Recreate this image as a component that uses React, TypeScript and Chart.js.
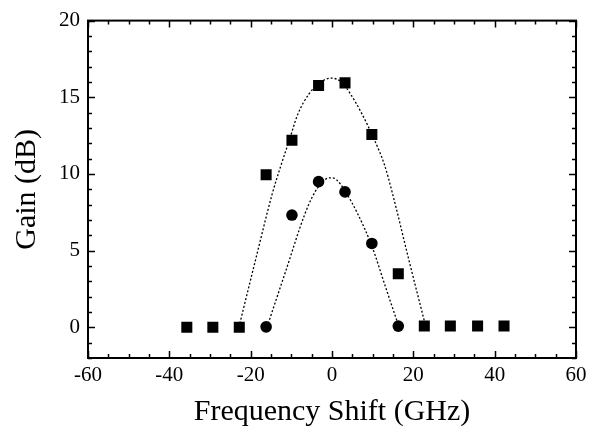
import React, { useEffect, useRef } from 'react';
import { Chart, registerables } from 'chart.js';

Chart.register(...registerables);

// Axis ticks
const xTicks = [-60, -40, -20, 0, 20, 40, 60];
const yTicks = [0, 5, 10, 15, 20];
const xMinorStep = 5;
const yMinorStep = 1;
const xRange = [-60, 60];
const yRange = [-2, 20];

// Measured data: squares
const squareX = [-35.7, -29.3, -22.8, -16.2, -9.85, -3.3, 3.2, 9.8, 16.3, 22.7, 29.1, 35.8, 42.3];
const squareY = [0, 0, 0, 9.95, 12.2, 15.77, 15.94, 12.58, 3.49, 0.08, 0.08, 0.08, 0.08];

// Measured data: circles
const circleX = [-16.2, -9.85, -3.3, 3.2, 9.8, 16.3];
const circleY = [0.03, 7.32, 9.5, 8.83, 5.47, 0.08];

// Fit curves (dotted)
const squareFitX = [-22.9, -18.8, -14.7, -12.5, -10.5, -8.4, -5.7, -3.0, -0.3, 2.3, 4.7, 7.1, 10.3, 12.9, 14.8, 18.9, 23.1];
const squareFitY = [0, 4.4, 8.7, 10.6, 12.2, 13.9, 15.2, 15.95, 16.25, 16.0, 15.15, 14.05, 12.3, 10.6, 8.8, 4.4, 0];
const circleFitX = [-16.0, -11.4, -6.8, -4.75, -2.5, -0.5, 1.0, 3.3, 6.5, 9.8, 13.2, 16.5];
const circleFitY = [0, 3.65, 7.3, 8.55, 9.45, 9.75, 9.65, 8.85, 7.3, 5.3, 2.6, 0];

const toPts = (xs: number[], ys: number[]) => xs.map((x, i) => ({ x, y: ys[i] }));

const framePlugin = {
  id: 'frame',
  afterDatasetsDraw(chart: any) {
    const { ctx, chartArea: a, scales } = chart;
    const x = scales.x;
    const y = scales.y;
    ctx.save();
    ctx.strokeStyle = '#000';
    ctx.lineWidth = 1.5;
    ctx.beginPath();
    for (let v = xRange[0]; v <= xRange[1] + 1e-9; v += xMinorStep) {
      const px = Math.round(x.getPixelForValue(v)) + 0.5;
      const len = xTicks.includes(v) ? 7 : 4;
      ctx.moveTo(px, a.bottom);
      ctx.lineTo(px, a.bottom - len);
      ctx.moveTo(px, a.top);
      ctx.lineTo(px, a.top + len);
    }
    for (let v = yRange[0]; v <= yRange[1] + 1e-9; v += yMinorStep) {
      const py = Math.round(y.getPixelForValue(v)) + 0.5;
      const len = yTicks.includes(v) ? 7 : 4;
      ctx.moveTo(a.left, py);
      ctx.lineTo(a.left + len, py);
      ctx.moveTo(a.right, py);
      ctx.lineTo(a.right - len, py);
    }
    ctx.stroke();
    ctx.lineWidth = 2;
    ctx.strokeRect(a.left, a.top, a.right - a.left, a.bottom - a.top);
    ctx.restore();
  },
};

export default function App() {
  const ref = useRef<HTMLCanvasElement | null>(null);

  useEffect(() => {
    if (!ref.current) return;
    Chart.defaults.font.family = "'Liberation Serif', 'Times New Roman', serif";
    Chart.defaults.color = '#000';
    const chart = new Chart(ref.current, {
      type: 'scatter',
      data: {
        datasets: [
          {
            label: 'square fit',
            data: toPts(squareFitX, squareFitY),
            showLine: true,
            borderColor: '#000',
            borderWidth: 1.3,
            borderDash: [2, 2],
            pointRadius: 0,
            cubicInterpolationMode: 'monotone',
          },
          {
            label: 'circle fit',
            data: toPts(circleFitX, circleFitY),
            showLine: true,
            borderColor: '#000',
            borderWidth: 1.3,
            borderDash: [2, 2],
            pointRadius: 0,
            cubicInterpolationMode: 'monotone',
          },
          {
            label: 'squares',
            data: toPts(squareX, squareY),
            pointStyle: 'rect',
            pointRadius: 7.8,
            backgroundColor: '#000',
            borderColor: '#000',
            borderWidth: 0,
          },
          {
            label: 'circles',
            data: toPts(circleX, circleY),
            pointStyle: 'circle',
            pointRadius: 5.8,
            backgroundColor: '#000',
            borderColor: '#000',
            borderWidth: 0,
          },
        ],
      },
      options: {
        responsive: false,
        animation: false,
        layout: { padding: { top: 18, right: 20, left: 0, bottom: 0 } },
        plugins: { legend: { display: false }, tooltip: { enabled: false } },
        scales: {
          x: {
            type: 'linear',
            position: 'bottom',
            min: xRange[0],
            max: xRange[1],
            afterBuildTicks: (s: any) => {
              s.ticks = xTicks.map((v) => ({ value: v }));
            },
            afterFit: (s: any) => {
              s.height = 72;
            },
            grid: { display: false, drawTicks: false },
            border: { display: false },
            ticks: {
              color: '#000',
              font: { size: 21 },
              padding: 5,
              maxRotation: 0,
              autoSkip: false,
            },
            title: {
              display: true,
              text: 'Frequency Shift (GHz)',
              color: '#000',
              font: { size: 30 },
              padding: { top: 0, bottom: 0 },
            },
          },
          y: {
            type: 'linear',
            position: 'left',
            min: yRange[0],
            max: yRange[1],
            afterBuildTicks: (s: any) => {
              s.ticks = yTicks.map((v) => ({ value: v }));
            },
            afterFit: (s: any) => {
              s.width = 88;
            },
            grid: { display: false, drawTicks: false },
            border: { display: false },
            ticks: {
              color: '#000',
              font: { size: 21 },
              padding: 8,
              autoSkip: false,
            },
            title: {
              display: true,
              text: 'Gain (dB)',
              color: '#000',
              font: { size: 30 },
              padding: { top: 9, bottom: 0 },
            },
          },
        },
      },
      plugins: [framePlugin],
    });
    return () => chart.destroy();
  }, []);

  return (
    <div style={{ position: 'fixed', left: 0, top: 0, width: 596, height: 430, background: '#fff' }}>
      <canvas ref={ref} width={596} height={430} />
    </div>
  );
}
